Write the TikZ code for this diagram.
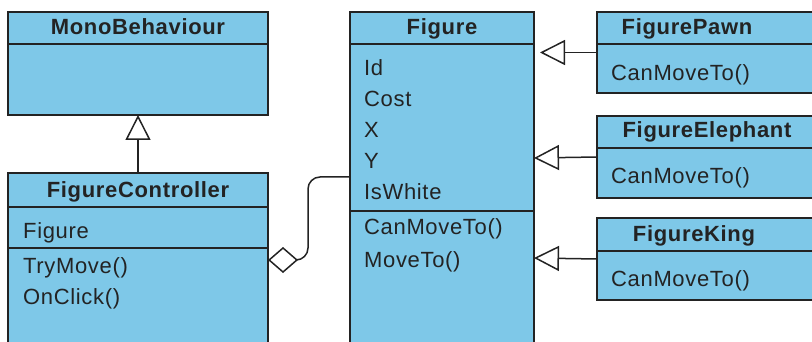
\documentclass[tikz,border=0pt]{standalone}
\usepackage{fontspec}
\setmainfont{Liberation Sans}[LetterSpace=3]
\usetikzlibrary{arrows.meta}
\definecolor{boxfill}{RGB}{126,200,232}
\definecolor{ink}{RGB}{35,35,35}
\begin{document}
\begin{tikzpicture}[x=1pt,y=-1pt,
 cls/.style={draw=ink, line width=1.8pt, fill=boxfill, inner sep=0pt, outer sep=0pt, anchor=north west},
 hdr/.style={font=\fontsize{22}{22}\selectfont\bfseries, text=ink, anchor=base, inner sep=0pt},
 itm/.style={font=\fontsize{22}{22}\selectfont, text=ink, anchor=base west, inner sep=0pt},
 sep/.style={draw=ink, line width=1.8pt},
 gen/.style={draw=ink, line width=1.5pt, -{Triangle[open, length=25pt, width=25pt, line width=1.5pt]}},
 agg/.style={draw=ink, line width=1.5pt, rounded corners=12pt, {Diamond[open, length=30pt, width=26pt, line width=1.5pt]}-},
]
\useasboundingbox (0,0) rectangle (812,342);
\clip (0,0) rectangle (812,342);
% class boxes
\node[cls, minimum width=260pt, minimum height=103pt] (mono) at (8,12) {};
\node[cls, minimum width=260pt, minimum height=200pt] (fc) at (8,173) {};
\node[cls, minimum width=184pt, minimum height=360pt] (fig) at (350,12) {};
\node[cls, minimum width=240pt, minimum height=81pt] (pawn) at (597,12) {};
\node[cls, minimum width=240pt, minimum height=82pt] (eleph) at (597,116) {};
\node[cls, minimum width=240pt, minimum height=82pt] (king) at (597,218) {};
% dividers
\draw[sep] (mono.west |- 0,44) -- (mono.east |- 0,44);
\draw[sep] (fc.west |- 0,207) -- (fc.east |- 0,207);
\draw[sep] (fc.west |- 0,248) -- (fc.east |- 0,248);
\draw[sep] (fig.west |- 0,44) -- (fig.east |- 0,44);
\draw[sep] (fig.west |- 0,211) -- (fig.east |- 0,211);
\draw[sep] (pawn.west |- 0,44) -- (pawn.east |- 0,44);
\draw[sep] (eleph.west |- 0,148) -- (eleph.east |- 0,148);
\draw[sep] (king.west |- 0,251) -- (king.east |- 0,251);
% headers
\node[hdr] (monoT) at (mono.north |- 0,35) {MonoBehaviour};
\node[hdr] (fcT) at (fc.north |- 0,197) {FigureController};
\node[hdr] (figT) at (fig.north |- 0,35) {Figure};
\node[hdr] (pawnT) at (687,35) {FigurePawn};
\node[hdr] (elephT) at (707,138) {FigureElephant};
\node[hdr] (kingT) at (694,241) {FigureKing};
% members
\node[itm] (fc1) at (23,238) {Figure};
\node[itm] (fc2) at (23,273) {TryMove()};
\node[itm] (fc3) at (23,304) {OnClick()};
\node[itm] (f1) at (364,76) {Id};
\node[itm] (f2) at (364,107) {Cost};
\node[itm] (f3) at (364,138) {X};
\node[itm] (f4) at (364,169) {Y};
\node[itm] (f5) at (364,200) {IsWhite};
\node[itm] (f6) at (364,235) {CanMoveTo()};
\node[itm] (f7) at (364,267) {MoveTo()};
\node[itm] (p1) at (611,81) {CanMoveTo()};
\node[itm] (e1) at (611,184) {CanMoveTo()};
\node[itm] (k1) at (611,287) {CanMoveTo()};
% connectors
\draw[gen] (fc.north) -- (mono.south);
\draw[gen, shorten >=6pt] (pawn.west) -- (fig.east |- pawn.west);
\draw[gen] (eleph.west) -- (fig.east |- 0,158);
\draw[gen] (king.west) -- (fig.east |- 0,258);
\draw[agg] (fc.east |- 0,260) -- (308,260) -- (308,177) -- (fig.west |- 0,177);
\end{tikzpicture}
\end{document}
